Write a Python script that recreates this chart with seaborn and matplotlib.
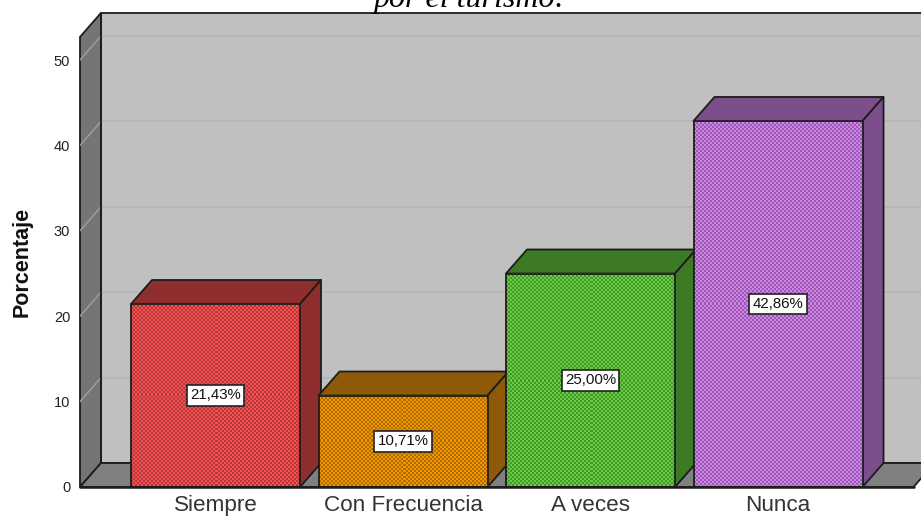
import matplotlib
matplotlib.use("Agg")
import matplotlib.pyplot as plt
from matplotlib.colors import to_rgb
from matplotlib.patches import Polygon
import numpy as np
import pandas as pd
import seaborn as sns

categories = ["Siempre", "Con Frecuencia", "A veces", "Nunca"]
percentages = [21.43, 10.71, 25.00, 42.86]
front_colors = ["#f85050", "#f29600", "#64d040", "#d282ee"]
side_colors = ["#8e2e2e", "#8f5a08", "#3d7a26", "#7c4f8c"]
y_ticks = [0, 10, 20, 30, 40, 50]

W, H = 921, 517
sns.set_theme(style="white")
plt.rcParams["font.family"] = ["Liberation Sans", "DejaVu Sans"]

fig = plt.figure(figsize=(W / 100, H / 100), dpi=100, facecolor="white")

# Axes run from the front of the floor up to the top of the back wall
left, right, bottom, top = 80, 921, 487, 13
ax = fig.add_axes([left / W, 1 - bottom / H, (right - left) / W, (bottom - top) / H])
ax.set_facecolor("none")

px_per_unit = 8.54
px_per_cat = 187.5
y_limits = (0, (bottom - top) / px_per_unit)
x_limits = (-0.7227, -0.7227 + (right - left) / px_per_cat)

# Oblique projection offset for the extruded parts
dx = 21 / px_per_cat
dy = 24 / px_per_unit
x0, x1 = -0.7227, 3.7227
y_top = 52.7

line = "#1c1c1c"


def face(points, color, z, edge=line, lw=1.3):
    ax.add_patch(Polygon(points, closed=True, facecolor=color, edgecolor=edge,
                         linewidth=lw, zorder=z, joinstyle="round", clip_on=False))


def stipple(color, rows, cols):
    """Two-pixel checker of the fill colour and a darker shade of it."""
    light = np.array(to_rgb(color))
    yy, xx = np.mgrid[0:rows, 0:cols]
    mask = ((xx // 2 + yy // 2) % 2 == 0)[..., None]
    return np.where(mask, light * 0.72, light)


# Back wall, side wall and floor
face([(x0 + dx, dy), (x1 + dx, dy), (x1 + dx, y_top + dy), (x0 + dx, y_top + dy)],
     "#c0c0c0", 0.5)
face([(x0, 0), (x0 + dx, dy), (x0 + dx, y_top + dy), (x0, y_top)], "#757575", 0.6)
face([(x0, 0), (x1, 0), (x1 + dx, dy), (x0 + dx, dy)], "#808080", 0.7)

# Grid lines wrap from the side wall onto the back wall
for v in y_ticks[1:]:
    ax.plot([x0 + dx, x1 + dx], [v + dy, v + dy], color="#b4b4b4", lw=1.2, zorder=0.55)
    ax.plot([x0, x0 + dx], [v, v + dy], color="#a0a0a0", lw=1.0, zorder=0.65)
# Wall corner edge stays on top of the grid
ax.plot([x0 + dx, x0 + dx], [dy, y_top + dy], color=line, lw=1.3, zorder=0.75)

existing = len(ax.patches)
frame = pd.DataFrame({"categoria": categories, "porcentaje": percentages})
sns.barplot(data=frame, x="categoria", y="porcentaje", hue="categoria",
            palette=front_colors, order=categories, width=169 / px_per_cat,
            legend=False, dodge=False, ax=ax, zorder=3, saturation=1)

bars = [b for b in ax.patches[existing:] if b.get_width() > 0 and b.get_height() > 0]
bars = sorted(bars, key=lambda b: b.get_x())

for i, (bar, pct, front, side) in enumerate(zip(bars, percentages, front_colors, side_colors)):
    bar.set_edgecolor(line)
    bar.set_linewidth(1.3)
    xa, xb = bar.get_x(), bar.get_x() + bar.get_width()
    z = 2 + i * 0.1
    bar.set_zorder(z + 0.05)
    face([(xa, pct), (xb, pct), (xb + dx, pct + dy), (xa + dx, pct + dy)], side, z)
    face([(xb, 0), (xb + dx, dy), (xb + dx, pct + dy), (xb, pct)], side, z)
    cols = int(round((xb - xa) * px_per_cat))
    rows = int(round(pct * px_per_unit))
    ax.imshow(stipple(front, rows, cols), extent=(xa, xb, 0, pct), aspect="auto",
              interpolation="nearest", zorder=z + 0.02)
    ax.text((xa + xb) / 2, pct / 2, f"{pct:.2f}%".replace(".", ","), ha="center",
            va="center", fontsize=10.8, color="#111111", zorder=6,
            bbox=dict(boxstyle="square,pad=0.22", facecolor="white",
                      edgecolor="#222222", linewidth=1.2))
    bar.set_facecolor("none")

ax.set_xlim(*x_limits)
ax.set_ylim(*y_limits)
ax.plot([x0, x1], [0, 0], color=line, lw=1.8, zorder=5, clip_on=False)

for s in ax.spines.values():
    s.set_visible(False)
ax.set_yticks(y_ticks)
ax.set_yticklabels([str(v) for v in y_ticks], fontsize=10.5, color="#222222")
ax.tick_params(axis="y", length=0, pad=7)
ax.set_xticks(range(len(categories)))
ax.set_xticklabels(categories, fontsize=16.2, color="#333333")
ax.tick_params(axis="x", length=0, pad=6)
ax.set_xlabel("")
ax.set_ylabel("")

fig.text(22 / W, 1 - 262 / H, "Porcentaje", rotation=90, ha="center", va="center",
         fontsize=15.5, fontweight="bold", color="#111111")
fig.text(470 / W, 1 - 7 / H, "por el turismo:", ha="center", va="baseline",
         fontsize=23, style="italic", family=["Liberation Serif"], color="black")

fig.savefig("out.png", dpi=100)
